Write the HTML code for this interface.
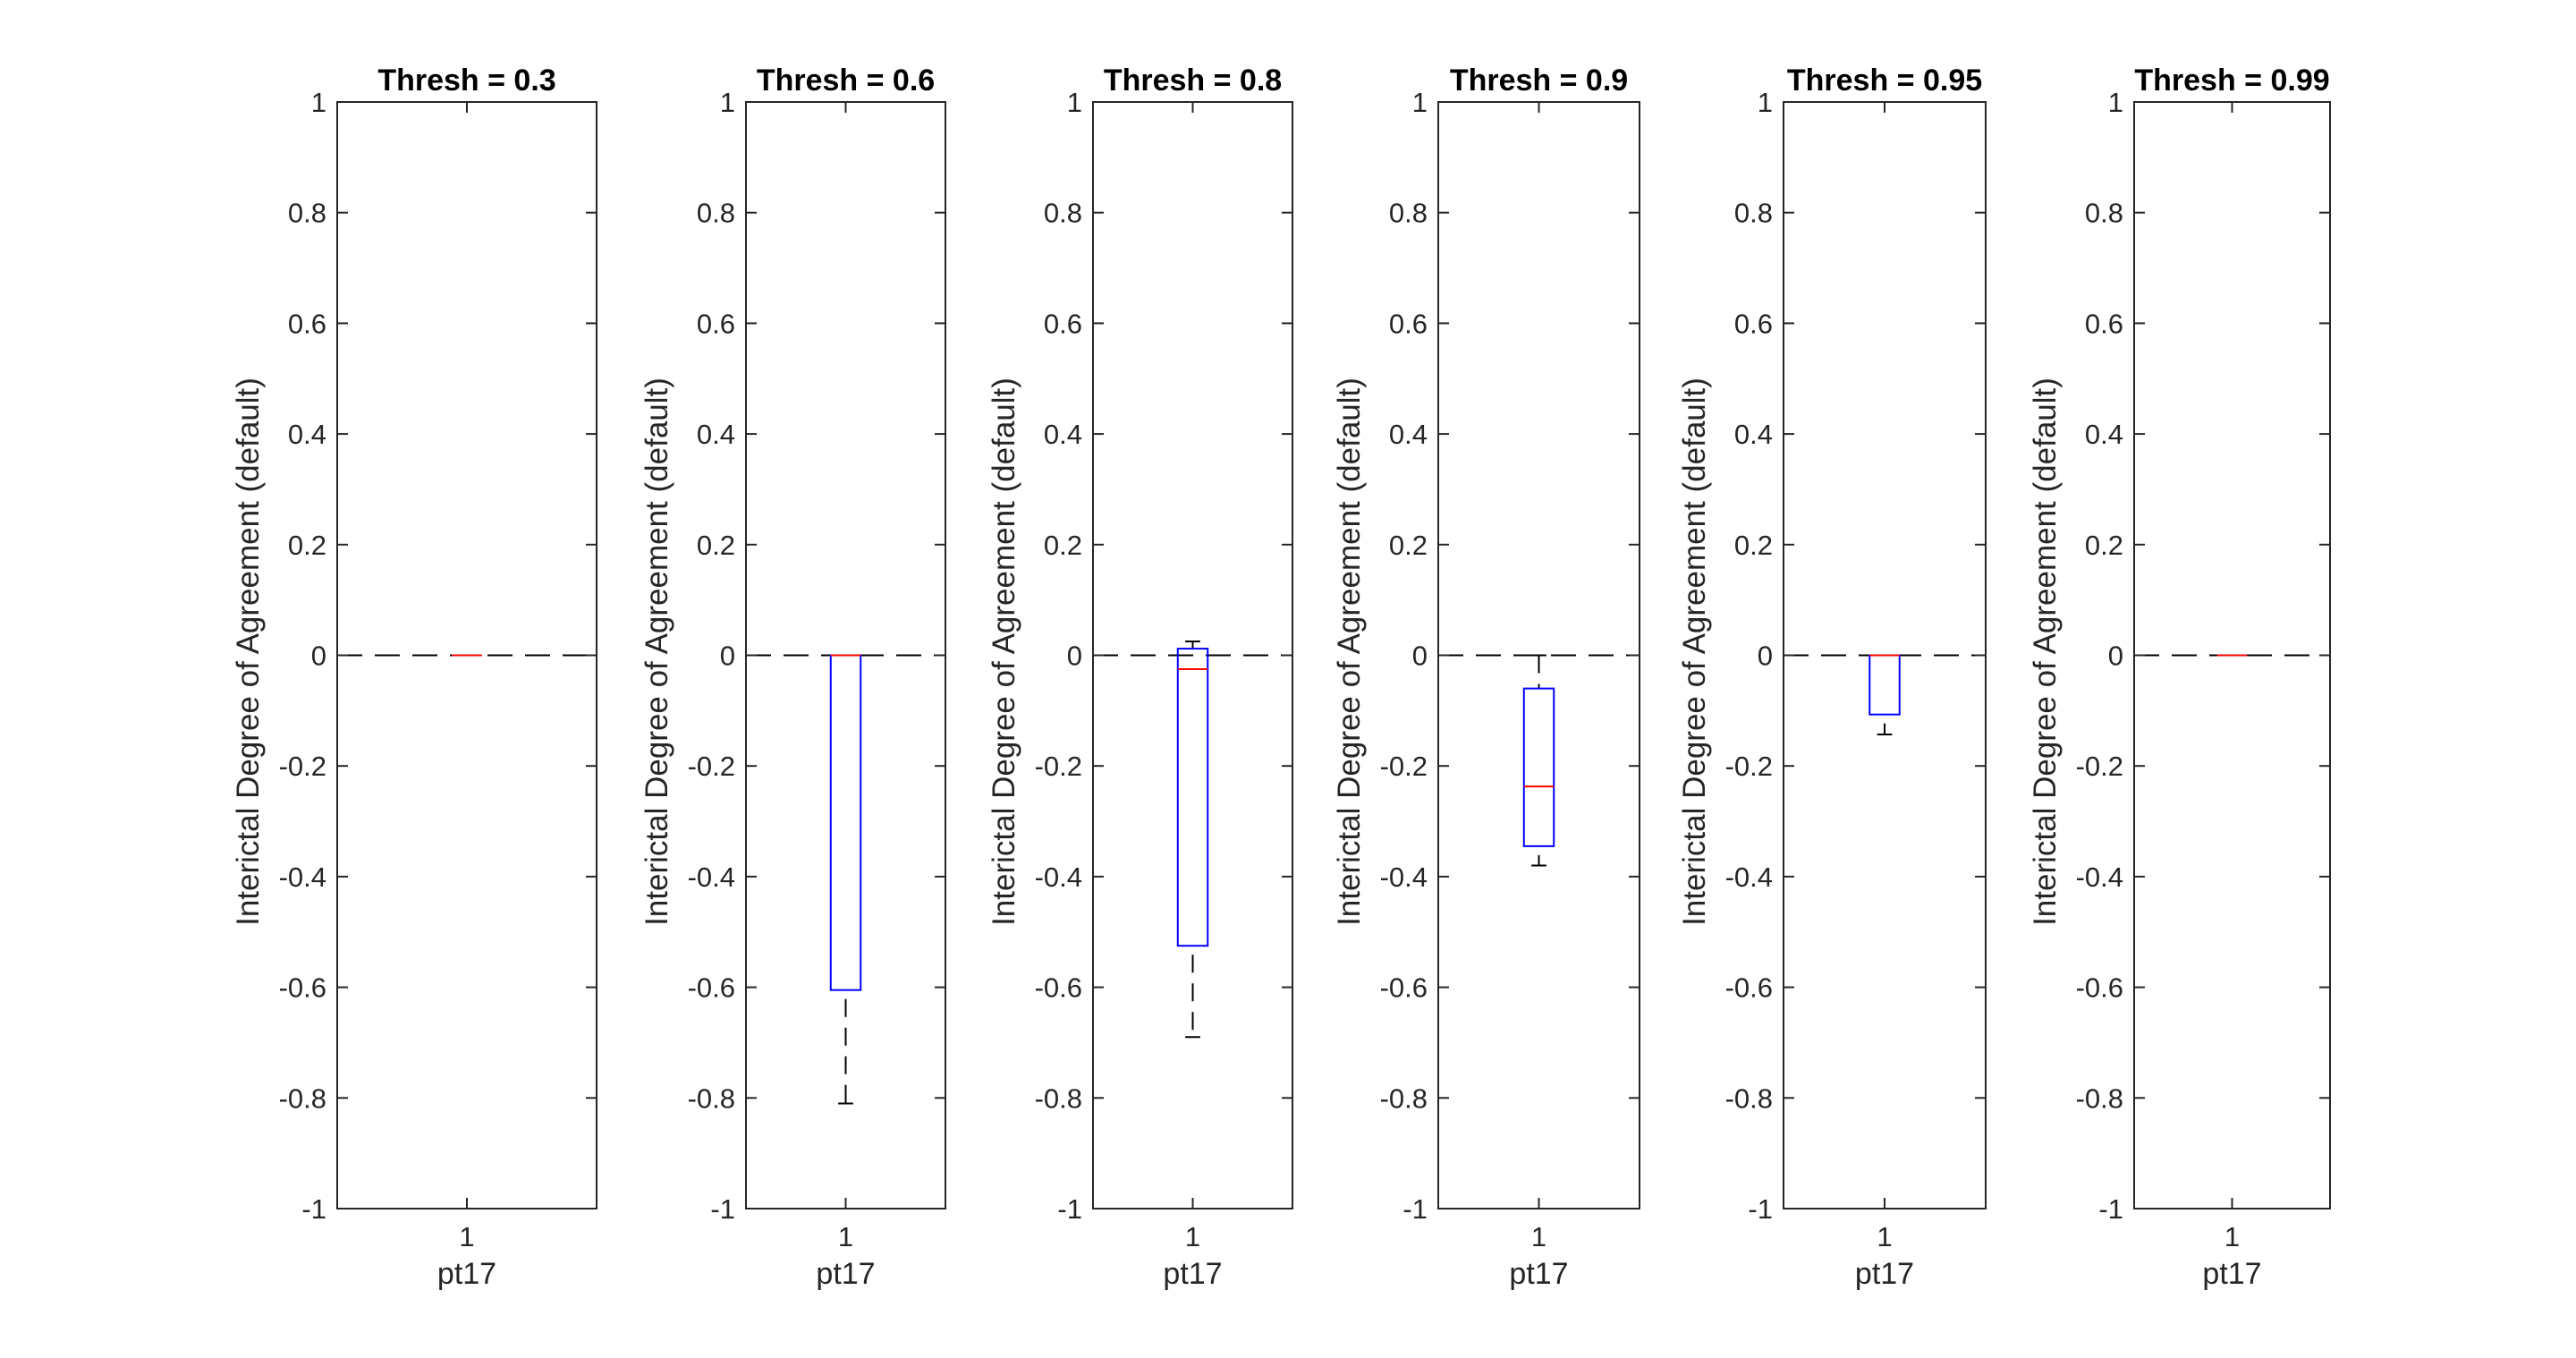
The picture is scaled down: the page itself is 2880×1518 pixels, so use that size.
<!DOCTYPE html>
<html><head><meta charset="utf-8">
<style>
html,body{margin:0;padding:0;background:#fff;}
svg{display:block;}
text{font-family:"Liberation Sans",Arial,sans-serif;}
</style></head>
<body>
<svg id="chart" width="2880" height="1518" viewBox="0 0 2880 1518" xmlns="http://www.w3.org/2000/svg"></svg>
<script>
const thresholds = ["0.3","0.6","0.8","0.9","0.95","0.99"];
const upperWhisker = [0, 0, 0.025, 0, 0, 0];
const q3Values = [0, 0, 0.012, -0.06, 0, 0];
const medians = [0, 0, -0.025, -0.237, 0, 0];
const q1Values = [0, -0.605, -0.525, -0.345, -0.107, 0];
const lowerWhisker = [0, -0.81, -0.69, -0.38, -0.143, 0];
const yTicks = [1, 0.8, 0.6, 0.4, 0.2, 0, -0.2, -0.4, -0.6, -0.8, -1];
const yTickLabels = ["1","0.8","0.6","0.4","0.2","0","-0.2","-0.4","-0.6","-0.8","-1"];

const panelLeft = [377, 834, 1222, 1608, 1994, 2386];
const panelRight = [667, 1057, 1445, 1833, 2220, 2605];
const TOP = 114, BOTTOM = 1351;
const NS = "http://www.w3.org/2000/svg";
const svg = document.getElementById('chart');
function mk(tag, attrs, parent){const e=document.createElementNS(NS,tag);for(const k in attrs)e.setAttribute(k,attrs[k]);(parent||svg).appendChild(e);return e;}
function yScale(v){return TOP + (1 - v) / 2 * (BOTTOM - TOP);}

thresholds.forEach((th, i) => {
  const L = panelLeft[i], R = panelRight[i], W = R - L;
  const xScale = v => L + (v - 0.5) * W;
  const g = mk('g', {});
  
  
  const cx = xScale(1);
  const ref = mk('line', {x1:L, x2:R, y1:yScale(0), y2:yScale(0), stroke:'#000', 'stroke-width':2, 'stroke-dasharray':'28,14'}, g);
  
  
  const box = mk('rect', {x:L, y:TOP, width:W, height:BOTTOM-TOP, fill:'none', stroke:'#262626', 'stroke-width':2}, g);
  
  
  yTicks.forEach((t, k) => {
    const y = yScale(t);
    mk('line', {x1:L, x2:L+12, y1:y, y2:y, stroke:'#262626', 'stroke-width':2}, g);
    mk('line', {x1:R-12, x2:R, y1:y, y2:y, stroke:'#262626', 'stroke-width':2}, g);
    const tl = mk('text', {x:L-12, y:y+11, 'text-anchor':'end', 'font-size':31, fill:'#262626'}, g);
    tl.textContent = yTickLabels[k];
    
    
  });
  mk('line', {x1:cx, x2:cx, y1:TOP, y2:TOP+12, stroke:'#262626', 'stroke-width':2}, g);
  mk('line', {x1:cx, x2:cx, y1:BOTTOM-12, y2:BOTTOM, stroke:'#262626', 'stroke-width':2}, g);
  const xl = mk('text', {x:cx, y:1393, 'text-anchor':'middle', 'font-size':31, fill:'#262626'}, g);
  xl.textContent = '1';
  
  
  const xt = mk('text', {x:cx, y:1435, 'text-anchor':'middle', 'font-size':34, fill:'#262626'}, g);
  xt.textContent = 'pt17';
  
  
  const tt = mk('text', {x:(L+R)/2, y:101, 'text-anchor':'middle', 'font-size':34, 'font-weight':'bold', fill:'#000'}, g);
  tt.textContent = 'Thresh = ' + th;
  
  
  const yx = L - 88, ym = (TOP + BOTTOM) / 2 - 4;
  const yl = mk('text', {x:yx, y:ym, 'text-anchor':'middle', 'font-size':35, fill:'#262626', transform:'rotate(-90 '+yx+' '+ym+')'}, g);
  yl.textContent = 'Interictal Degree of Agreement (default)';
  
  
  const bw = 0.15 * 223, cw = bw / 2;
  const wg = mk('g', {}, g);
  
  
  if (upperWhisker[i] > q3Values[i]) {
    mk('line', {x1:cx, x2:cx, y1:yScale(upperWhisker[i]), y2:yScale(q3Values[i]), stroke:'#000', 'stroke-width':2, 'stroke-dasharray':'20,12'}, wg);
    mk('line', {x1:cx-cw/2, x2:cx+cw/2, y1:yScale(upperWhisker[i]), y2:yScale(upperWhisker[i]), stroke:'#000', 'stroke-width':2}, wg);
  }
  if (lowerWhisker[i] < q1Values[i]) {
    mk('line', {x1:cx, x2:cx, y1:yScale(q1Values[i]), y2:yScale(lowerWhisker[i]), stroke:'#000', 'stroke-width':2, 'stroke-dasharray':'20,12', 'stroke-dashoffset':-10}, wg);
    mk('line', {x1:cx-cw/2, x2:cx+cw/2, y1:yScale(lowerWhisker[i]), y2:yScale(lowerWhisker[i]), stroke:'#000', 'stroke-width':2}, wg);
  }
  const yq3 = yScale(q3Values[i]), yq1 = yScale(q1Values[i]);
  const bx = mk('rect', {x:cx-bw/2, y:yq3, width:bw, height:Math.max(0, yq1-yq3), fill:'none', stroke:'#0000ff', 'stroke-width':2}, g);
  
  
  const md = mk('line', {x1:cx-bw/2, x2:cx+bw/2, y1:yScale(medians[i]), y2:yScale(medians[i]), stroke:'#ff0000', 'stroke-width':2}, g);
  
  
});
</script>
</body></html>
